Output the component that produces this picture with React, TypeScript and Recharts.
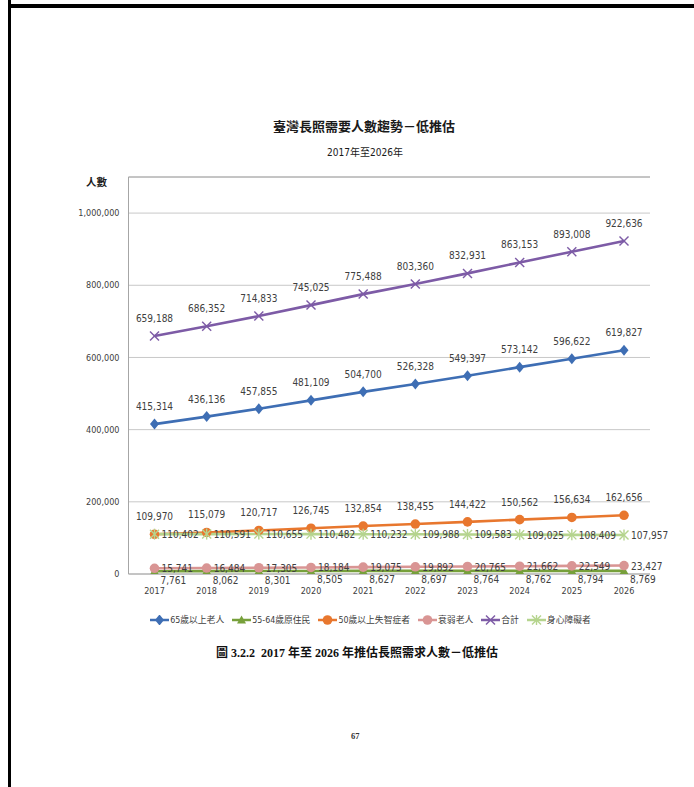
import React from 'react';
import { LineChart, Line, XAxis, YAxis, CartesianGrid, ReferenceLine, LabelList } from 'recharts';

const years = ['2017', '2018', '2019', '2020', '2021', '2022', '2023', '2024', '2025', '2026'];
const elderly65 = [415314, 436136, 457855, 481109, 504700, 526328, 549397, 573142, 596622, 619827];
const indigenous5564 = [7761, 8062, 8301, 8505, 8627, 8697, 8764, 8762, 8794, 8769];
const dementia50 = [109970, 115079, 120717, 126745, 132854, 138455, 144422, 150562, 156634, 162656];
const frail = [15741, 16484, 17305, 18184, 19075, 19892, 20765, 21662, 22549, 23427];
const total = [659188, 686352, 714833, 745025, 775488, 803360, 832931, 863153, 893008, 922636];
const disabled = [110402, 110591, 110655, 110482, 110232, 109988, 109583, 109025, 108409, 107957];
const yTicks = [0, 200000, 400000, 600000, 800000, 1000000];

const seriesNames = ['65歲以上老人', '55-64歲原住民', '50歲以上失智症者', '衰弱老人', '合計', '身心障礙者'];
const seriesKeys = ['elderly65', 'indigenous5564', 'dementia50', 'frail', 'total', 'disabled'];
const colors = ['#3E6EB4', '#77A03B', '#E8772E', '#D99594', '#7D5BA6', '#B5D48E'];
const markers = ['diamond', 'triangle', 'circle', 'circle', 'cross', 'star'];
const labelPos = ['above', 'belowRight', 'above', 'right', 'above', 'right'];

const data = years.map((y, i) => ({
  year: y,
  elderly65: elderly65[i],
  indigenous5564: indigenous5564[i],
  dementia50: dementia50[i],
  frail: frail[i],
  total: total[i],
  disabled: disabled[i],
}));

const NARROW = "'Liberation Sans Narrow', 'DejaVu Sans Condensed', 'Noto Sans CJK TC', sans-serif";
const fmt = (v: number) => v.toLocaleString('en-US');

function Marker({ type, x, y, color }: { type: string; x: number; y: number; color: string }) {
  if (type === 'diamond') {
    return <path d={`M${x},${y - 5.5} L${x + 4.5},${y} L${x},${y + 5.5} L${x - 4.5},${y} Z`} fill={color} />;
  }
  if (type === 'triangle') {
    return <path d={`M${x},${y - 4.5} L${x + 4.5},${y + 3.5} L${x - 4.5},${y + 3.5} Z`} fill={color} />;
  }
  if (type === 'circle') {
    return <circle cx={x} cy={y} r={4.8} fill={color} />;
  }
  if (type === 'cross') {
    return (
      <g stroke={color} strokeWidth={1.4}>
        <line x1={x - 4.5} y1={y - 4.5} x2={x + 4.5} y2={y + 4.5} />
        <line x1={x - 4.5} y1={y + 4.5} x2={x + 4.5} y2={y - 4.5} />
      </g>
    );
  }
  return (
    <g stroke={color} strokeWidth={1.4}>
      <line x1={x - 4.5} y1={y - 4.5} x2={x + 4.5} y2={y + 4.5} />
      <line x1={x - 4.5} y1={y + 4.5} x2={x + 4.5} y2={y - 4.5} />
      <line x1={x} y1={y - 5.5} x2={x} y2={y + 5.5} />
    </g>
  );
}

const makeDot = (type: string, color: string) => (props: any) => {
  const { cx, cy, index } = props;
  if (cx == null || cy == null) return <g key={`d-${index}`} />;
  return (
    <g key={`d-${type}-${index}`}>
      <Marker type={type} x={cx} y={cy} color={color} />
    </g>
  );
};

const makeLabel = (pos: string) => (props: any) => {
  const { x, y, value, index } = props;
  const common = { fill: '#404040', fontSize: 10, fontFamily: NARROW };
  if (pos === 'above') {
    return (
      <text key={`l-${index}`} x={x} y={y - 17.5} textAnchor="middle" dominantBaseline="central" {...common}>
        {fmt(value)}
      </text>
    );
  }
  if (pos === 'right') {
    return (
      <text key={`l-${index}`} x={x + 7} y={y + 0.5} textAnchor="start" dominantBaseline="central" {...common}>
        {fmt(value)}
      </text>
    );
  }
  return (
    <text key={`l-${index}`} x={x + 6} y={y + 9} textAnchor="start" dominantBaseline="central" {...common}>
      {fmt(value)}
    </text>
  );
};

function LegendIcon({ type, color }: { type: string; color: string }) {
  return (
    <svg width={19} height={10} style={{ display: 'block' }}>
      <line x1={0} y1={5} x2={19} y2={5} stroke={color} strokeWidth={2.5} />
      <Marker type={type} x={9.5} y={5} color={color} />
    </svg>
  );
}

export default function App() {
  return (
    <div style={{ position: 'absolute', left: 0, top: 0, width: 694, height: 787, background: '#fff', overflow: 'hidden' }}>
      {/* page border */}
      <div style={{ position: 'absolute', left: 8, top: 4, width: 686, height: 4, background: '#000' }} />
      <div style={{ position: 'absolute', left: 8, top: 0, width: 2.5, height: 787, background: '#000' }} />

      {/* titles */}
      <div style={{ position: 'absolute', left: 0, width: 728, top: 117, textAlign: 'center', fontFamily: "'Noto Sans CJK TC', sans-serif", fontWeight: 700, fontSize: 13, color: '#1a1a1a', lineHeight: '18px' }}>
        臺灣長照需要人數趨勢－低推估
      </div>
      <div style={{ position: 'absolute', left: 0, width: 730, top: 145, textAlign: 'center', fontFamily: NARROW, fontSize: 10, color: '#1a1a1a', lineHeight: '16px' }}>
        2017年至2026年
      </div>
      <div style={{ position: 'absolute', left: 86, top: 174, fontFamily: "'Noto Sans CJK TC', sans-serif", fontWeight: 700, fontSize: 10.5, color: '#1a1a1a', lineHeight: '16px' }}>
        人數
      </div>

      <div style={{ position: 'absolute', left: 0, top: 0 }}>
        <LineChart width={694} height={787} data={data} margin={{ top: 177, right: 44, bottom: 183, left: 68.5 }}>
          <CartesianGrid vertical={false} stroke="#C8C8C8" strokeWidth={1} />
          <XAxis
            dataKey="year"
            padding={{ left: 26, right: 26 }}
            height={30}
            tickLine={false}
            tickSize={0}
            tickMargin={14}
            axisLine={{ stroke: '#A6A6A6' }}
            tick={{ fill: '#404040', fontSize: 9, fontFamily: NARROW }}
            interval={0}
          />
          <YAxis
            width={60}
            domain={[0, 1100000]}
            ticks={yTicks}
            tickFormatter={(v: number) => fmt(v)}
            tickLine={false}
            tickSize={0}
            tickMargin={9}
            axisLine={{ stroke: '#A6A6A6' }}
            tick={{ fill: '#404040', fontSize: 9, fontFamily: NARROW }}
            allowDataOverflow
          />
          <YAxis yAxisId="right" orientation="right" width={0} tick={false} tickLine={false} axisLine={{ stroke: '#A6A6A6' }} domain={[0, 1100000]} />
          <ReferenceLine y={1100000} stroke="#A6A6A6" ifOverflow="extendDomain" />
          {seriesKeys.map((k, i) => (
            <Line
              key={k}
              dataKey={k}
              name={seriesNames[i]}
              stroke={colors[i]}
              strokeWidth={2.6}
              isAnimationActive={false}
              dot={makeDot(markers[i], colors[i])}
              activeDot={false}
            >
              <LabelList dataKey={k} content={makeLabel(labelPos[i])} />
            </Line>
          ))}
        </LineChart>
      </div>

      {/* legend */}
      <div style={{ position: 'absolute', left: 0, width: 741, top: 613, display: 'flex', justifyContent: 'center', gap: 8, fontFamily: NARROW, fontSize: 8.8, color: '#404040', lineHeight: '14px' }}>
        {seriesNames.map((n, i) => (
          <div key={n} style={{ display: 'flex', alignItems: 'center', gap: 1 }}>
            <LegendIcon type={markers[i]} color={colors[i]} />
            <span>{n}</span>
          </div>
        ))}
      </div>

      {/* caption */}
      <div style={{ position: 'absolute', left: 0, width: 714, top: 644, textAlign: 'center', fontFamily: "'Liberation Serif', 'Noto Sans CJK TC', serif", fontWeight: 700, fontSize: 12, color: '#111', lineHeight: '18px', whiteSpace: 'pre' }}>
        {'圖 3.2.2  2017 年至 2026 年推估長照需求人數－低推估'}
      </div>

      {/* page number */}
      <div style={{ position: 'absolute', left: 351, top: 731, fontFamily: "'Liberation Serif', serif", fontWeight: 700, fontSize: 8.5, color: '#333', lineHeight: '10px' }}>
        67
      </div>
    </div>
  );
}
